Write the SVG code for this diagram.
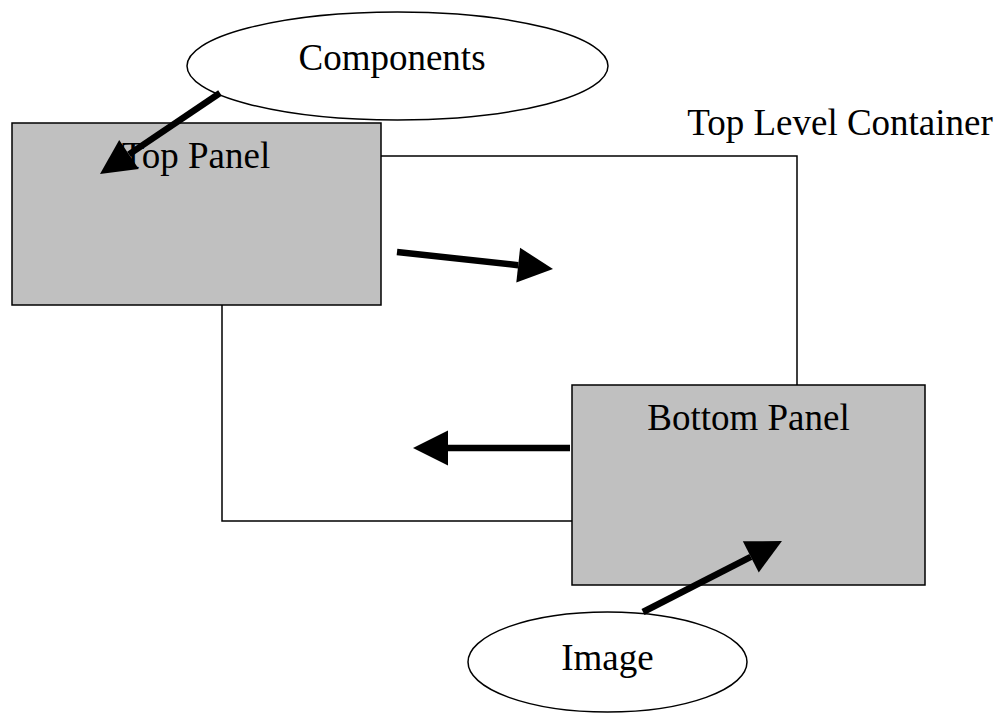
<svg xmlns="http://www.w3.org/2000/svg" width="1005" height="713" viewBox="0 0 1005 713">
  <style>
    .panel { fill: #c0c0c0; stroke: #000; stroke-width: 1.5; }
    .oval { fill: #fff; stroke: #000; stroke-width: 1.5; }
    .label { font-family: "Liberation Serif", "Times New Roman", serif; font-size: 37px; fill: #000; text-anchor: middle; }
    .wire { fill: none; stroke: #000; stroke-width: 1.5; }
    .flow { fill: none; stroke: #000; stroke-width: 6.5; marker-end: url(#head); }
  </style>
  <defs>
    <marker id="head" markerUnits="userSpaceOnUse" markerWidth="36" markerHeight="36" refX="0" refY="17.5" orient="auto" overflow="visible">
      <path d="M0,0 L35,17.5 L0,35 Z" fill="#000"/>
    </marker>
  </defs>

  <rect width="1005" height="713" fill="#fff"/>

  <!-- outer container label -->
  <g id="container">
    <text class="label" x="840" y="135">Top Level Container</text>
  </g>

  <g id="top-panel">
    <rect class="panel" x="12" y="123" width="369" height="182"/>
    <text class="label" x="196" y="168">Top Panel</text>
  </g>

  <g id="bottom-panel">
    <rect class="panel" x="572" y="385" width="353" height="200"/>
    <text class="label" x="748.5" y="430">Bottom Panel</text>
  </g>

  <g id="components">
    <ellipse class="oval" cx="397.5" cy="66" rx="210.5" ry="54"/>
    <text class="label" x="392" y="70">Components</text>
  </g>

  <g id="image">
    <ellipse class="oval" cx="607.5" cy="662" rx="139.5" ry="50"/>
    <text class="label" x="607.5" y="670">Image</text>
  </g>

  <g id="connectors">
    <!-- container outline linking the two panels -->
    <polyline class="wire" points="381,156 797,156 797,385"/>
    <polyline class="wire" points="222,305 222,521 572,521"/>
    <!-- flow arrows -->
    <line class="flow" x1="220" y1="93" x2="129" y2="154.4"/>
    <line class="flow" x1="397" y1="252" x2="518.2" y2="265.2"/>
    <line class="flow" x1="570" y1="448" x2="448" y2="448"/>
    <line class="flow" x1="643" y1="612" x2="750.8" y2="556.9"/>
  </g>
</svg>
